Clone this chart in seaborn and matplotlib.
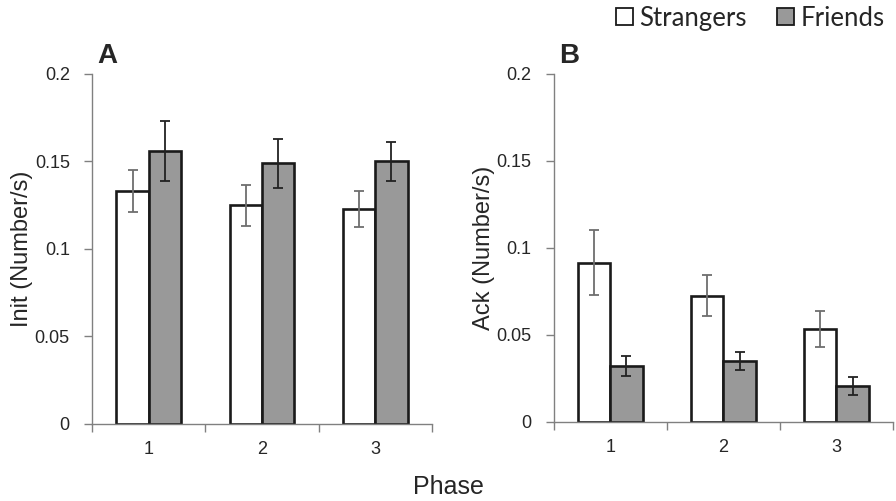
import pandas as pd
import seaborn as sns
import matplotlib
matplotlib.use('Agg')
import matplotlib.pyplot as plt
from matplotlib.patches import Patch

# values
phases = ['1', '2', '3']
groups = ['Strangers', 'Friends']
init_strangers = [0.133, 0.125, 0.123]
init_strangers_err = [0.012, 0.0117, 0.0102]
init_friends = [0.156, 0.149, 0.150]
init_friends_err = [0.017, 0.014, 0.011]
ack_strangers = [0.0915, 0.0725, 0.0535]
ack_strangers_err = [0.0187, 0.0117, 0.0105]
ack_friends = [0.032, 0.035, 0.0205]
ack_friends_err = [0.0058, 0.005, 0.0053]
y_ticks = [0, 0.05, 0.1, 0.15, 0.2]
y_tick_labels = ['0', '0.05', '0.1', '0.15', '0.2']

colors = ['#ffffff', '#999999']
err_colors = ['#6e6e6e', '#222222']

sns.set_style('white')
plt.rcParams['font.family'] = ['Liberation Sans', 'DejaVu Sans']

fig = plt.figure(figsize=(8.96, 5.01), dpi=100)
axA = fig.add_axes([0.1027, 0.1537, 0.3793, 0.6986])
axB = fig.add_axes([0.618, 0.158, 0.3787, 0.6943])


def panel(ax, s_vals, s_err, f_vals, f_err, ylabel, letter):
    df = pd.DataFrame({
        'Phase': phases * 2,
        'Group': [groups[0]] * 3 + [groups[1]] * 3,
        'value': s_vals + f_vals,
    })
    sns.barplot(data=df, x='Phase', y='value', hue='Group', palette=colors,
                edgecolor='#1a1a1a', linewidth=1.9, width=0.57, gap=0,
                errorbar=None, legend=False, ax=ax)
    for cont, err, ec in zip(ax.containers, [s_err, f_err], err_colors):
        xs = [p.get_x() + p.get_width() / 2 for p in cont]
        hs = [p.get_height() for p in cont]
        ax.errorbar(xs, hs, yerr=err, fmt='none', ecolor=ec, elinewidth=1.3,
                    capsize=3.5, capthick=1.3, zorder=5)
    ax.set_xlim(-0.5, 2.5)
    ax.set_ylim(0, 0.2)
    ax.set_yticks(y_ticks)
    ax.set_yticklabels(y_tick_labels)
    # tick marks between categories, labels at the centres
    ax.set_xticks([-0.5, 0.5, 1.5, 2.5])
    ax.set_xticklabels([])
    ax.set_xticks([0, 1, 2], minor=True)
    ax.set_xticklabels(phases, minor=True)
    ax.tick_params(axis='x', which='major', direction='out', length=6,
                   width=1, color='#808080', bottom=True)
    ax.tick_params(axis='x', which='minor', length=0, pad=12, labelsize=13)
    ax.tick_params(axis='y', direction='out', length=6, width=1,
                   color='#808080', left=True, labelsize=13, pad=10)
    for side in ['top', 'right']:
        ax.spines[side].set_visible(False)
    for side in ['left', 'bottom']:
        ax.spines[side].set_color('#808080')
        ax.spines[side].set_linewidth(1)
    ax.set_xlabel('')
    ax.set_ylabel(ylabel, fontsize=17, labelpad=1)
    ax.text(0.015, 1.015, letter, transform=ax.transAxes, fontsize=20,
            fontweight='bold', ha='left', va='bottom')


panel(axA, init_strangers, init_strangers_err, init_friends, init_friends_err,
      'Init (Number/s)', 'A')
panel(axB, ack_strangers, ack_strangers_err, ack_friends, ack_friends_err,
      'Ack (Number/s)', 'B')

fig.text(0.5, 0.003, 'Phase', ha='center', va='bottom', fontsize=18)

handles = [Patch(facecolor=c, edgecolor='#1a1a1a', linewidth=1.3) for c in colors]
fig.legend(handles, groups, loc='upper right', bbox_to_anchor=(1.013, 1.035),
           ncol=2, frameon=False, handlelength=0.65, handleheight=0.65,
           handletextpad=0.25, columnspacing=1.2,
           prop={'family': 'Lato', 'size': 18.5})

fig.savefig('out.png', dpi=100)
